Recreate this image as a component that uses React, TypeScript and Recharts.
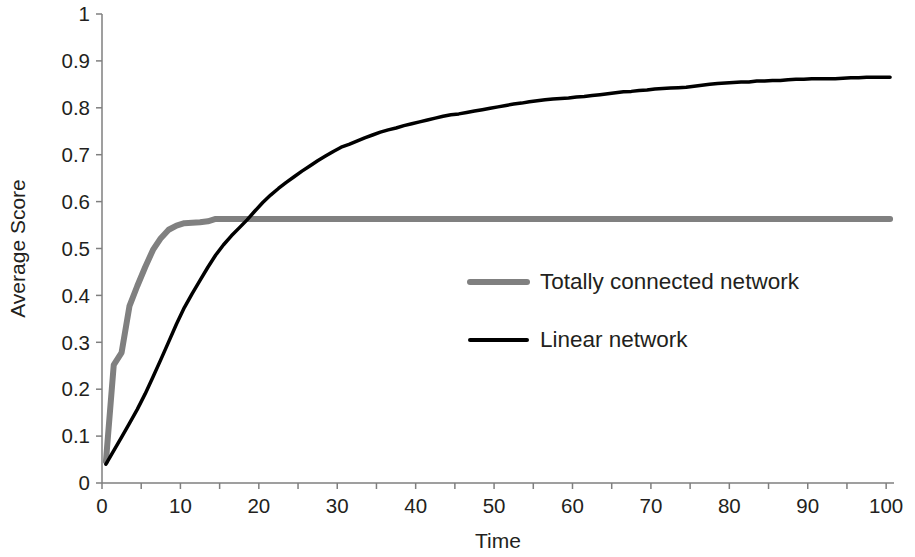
import { LineChart, Line, XAxis, YAxis, Label } from 'recharts';

// one value per time step, steps sit between the tick marks (0.5, 1.5, ... 100.5)
const TOTALLY_CONNECTED = [
  0.046, 0.252, 0.278, 0.377, 0.42, 0.46, 0.497, 0.522, 0.54, 0.549,
  0.554, 0.555, 0.556, 0.558, 0.563, 0.563, 0.563, 0.563, 0.563, 0.563,
  0.563, 0.563, 0.563, 0.563, 0.563, 0.563, 0.563, 0.563, 0.563, 0.563,
  0.563, 0.563, 0.563, 0.563, 0.563, 0.563, 0.563, 0.563, 0.563, 0.563,
  0.563, 0.563, 0.563, 0.563, 0.563, 0.563, 0.563, 0.563, 0.563, 0.563,
  0.563, 0.563, 0.563, 0.563, 0.563, 0.563, 0.563, 0.563, 0.563, 0.563,
  0.563, 0.563, 0.563, 0.563, 0.563, 0.563, 0.563, 0.563, 0.563, 0.563,
  0.563, 0.563, 0.563, 0.563, 0.563, 0.563, 0.563, 0.563, 0.563, 0.563,
  0.563, 0.563, 0.563, 0.563, 0.563, 0.563, 0.563, 0.563, 0.563, 0.563,
  0.563, 0.563, 0.563, 0.563, 0.563, 0.563, 0.563, 0.563, 0.563, 0.563,
  0.563,
];

const LINEAR = [
  0.04, 0.069, 0.098, 0.127, 0.157, 0.19, 0.226, 0.263, 0.301, 0.339,
  0.374, 0.404, 0.432, 0.46, 0.486, 0.508, 0.527, 0.544, 0.561, 0.58,
  0.598, 0.614, 0.628, 0.641, 0.653, 0.665, 0.676, 0.687, 0.697, 0.707,
  0.716, 0.722, 0.729, 0.736, 0.742, 0.748, 0.753, 0.757, 0.762, 0.766,
  0.77, 0.774, 0.778, 0.782, 0.785, 0.787, 0.79, 0.793, 0.796, 0.799,
  0.802, 0.805, 0.808, 0.81, 0.813, 0.815, 0.817, 0.819, 0.82, 0.821,
  0.823, 0.824, 0.826, 0.828, 0.83, 0.832, 0.834, 0.835, 0.837, 0.838,
  0.84, 0.841, 0.842, 0.843, 0.844, 0.846, 0.848, 0.85, 0.852, 0.853,
  0.854, 0.855, 0.855, 0.857, 0.857, 0.858, 0.858, 0.86, 0.861, 0.861,
  0.862, 0.862, 0.862, 0.862, 0.863, 0.864, 0.864, 0.865, 0.865, 0.865,
  0.865,
];

const X_TICKS = [0, 5, 10, 15, 20, 25, 30, 35, 40, 45, 50, 55, 60, 65, 70, 75, 80, 85, 90, 95, 100];
const Y_TICKS = [0, 0.1, 0.2, 0.3, 0.4, 0.5, 0.6, 0.7, 0.8, 0.9, 1];

const SERIES_NAMES = ['Totally connected network', 'Linear network'];

const FONT = '"Liberation Sans", Arial, sans-serif';
const TEXT = '#231f20';
const AXIS = '#7f7f7f';
const GREY = '#808080';

const data = LINEAR.map((v, i) => ({
  t: i + 0.5,
  linear: v,
  total: TOTALLY_CONNECTED[i],
}));

// labels only on every other tick (multiples of 10)
function TimeTick(props: any) {
  const { x, y, payload } = props;
  if (payload.value % 10 !== 0) return <g />;
  return (
    <text x={x} y={y} dy="0.71em" textAnchor="middle" fill={TEXT} fontSize={20.5} fontFamily={FONT}>
      {payload.value}
    </text>
  );
}

// legend sits inside the plot, drawn outside the chart so it takes no room
function LegendBox() {
  const rows = [
    { name: SERIES_NAMES[0], color: GREY, width: 6 },
    { name: SERIES_NAMES[1], color: '#000', width: 4 },
  ];
  return (
    <div
      style={{
        position: 'absolute',
        left: 464,
        top: 253,
        fontFamily: FONT,
        fontSize: 22.5,
        color: TEXT,
        whiteSpace: 'nowrap',
      }}
    >
      {rows.map((r) => (
        <div key={r.name} style={{ display: 'flex', alignItems: 'center', height: 58 }}>
          <svg width={70} height={10} style={{ marginRight: 6 }}>
            <line x1={6} y1={5} x2={63} y2={5} stroke={r.color} strokeWidth={r.width} strokeLinecap="round" />
          </svg>
          <span>{r.name}</span>
        </div>
      ))}
    </div>
  );
}

export default function App() {
  return (
    <div style={{ position: 'absolute', left: 0, top: 0, width: 915, height: 557, background: '#fff' }}>
      <LineChart
        width={915}
        height={557}
        data={data}
        margin={{ top: 14, right: 21, bottom: 0, left: 0 }}
        style={{ fontFamily: FONT }}
      >
        <XAxis
          dataKey="t"
          type="number"
          domain={[0, 101]}
          ticks={X_TICKS}
          interval={0}
          height={74}
          stroke={AXIS}
          strokeWidth={1.5}
          tickSize={6}
          tickMargin={9}
          tick={<TimeTick />}
          allowDecimals
        >
          <Label value="Time" position="insideBottom" offset={9} fill={TEXT} fontSize={21} fontFamily={FONT} />
        </XAxis>
        <YAxis
          type="number"
          domain={[0, 1]}
          ticks={Y_TICKS}
          interval={0}
          width={102}
          stroke={AXIS}
          strokeWidth={1.5}
          tickSize={6}
          tickMargin={6}
          tick={{ fill: TEXT, fontSize: 20.5, fontFamily: FONT }}
          tickFormatter={(v) => String(Number(Number(v).toFixed(1)))}
        >
          <Label
            value="Average Score"
            angle={-90}
            position="insideLeft"
            offset={18}
            fill={TEXT}
            fontSize={21}
            fontFamily={FONT}
            style={{ textAnchor: 'middle' }}
          />
        </YAxis>
        <Line
          type="linear"
          dataKey="total"
          name={SERIES_NAMES[0]}
          stroke={GREY}
          strokeWidth={6}
          strokeLinecap="round"
          strokeLinejoin="round"
          dot={false}
          activeDot={false}
          isAnimationActive={false}
        />
        <Line
          type="linear"
          dataKey="linear"
          name={SERIES_NAMES[1]}
          stroke="#000"
          strokeWidth={3.5}
          strokeLinecap="round"
          strokeLinejoin="round"
          dot={false}
          activeDot={false}
          isAnimationActive={false}
        />
      </LineChart>
      <LegendBox />
    </div>
  );
}
